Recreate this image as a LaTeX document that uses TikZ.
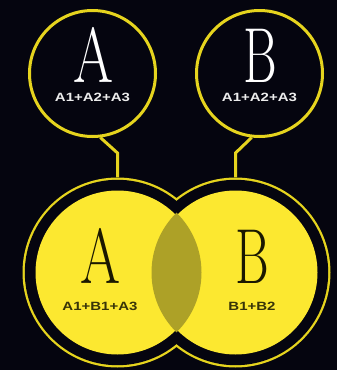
\documentclass[tikz,border=0pt]{standalone}
\usepackage{fontspec}
\newfontfamily\labfont{Liberation Sans}
\definecolor{bg}{HTML}{05050F}
\definecolor{ylw}{HTML}{FCE830}
\definecolor{ylwline}{HTML}{E6D41E}
\definecolor{olive}{HTML}{ADA127}
\definecolor{darktext}{HTML}{1A1800}
\tikzset{
  topcircle/.style={circle, draw=ylwline, line width=3pt, minimum size=126pt, inner sep=0pt},
  bigcircle/.style={circle, minimum size=190pt, inner sep=0pt},
  connector/.style={draw=ylwline, line width=3pt},
  bigletter/.style={font=\fontsize{78}{78}\selectfont, inner sep=0pt, text height=53pt, text depth=0pt},
  smalllabel/.style={font=\labfont\bfseries\fontsize{12}{12}\selectfont, inner sep=0pt, text height=8.6pt, text depth=0pt}
}
\begin{document}
\begin{tikzpicture}[x=1pt,y=-1pt]
\fill[bg] (0,0) rectangle (337,370);
\useasboundingbox (0,0) rectangle (337,370);
% top circles
\node[topcircle] (ta) at (92.5,73.5) {};
\node[topcircle] (tb) at (259.5,73.5) {};
\node[bigletter, text=white, anchor=base] (tal) at (93,82) {\scalebox{0.74}[1]{A}};
\node[bigletter, text=white, anchor=base] (tbl) at (260,82) {\scalebox{0.66}[1]{B}};
\node[smalllabel, text=white!85!gray, anchor=base] (tas) at (92.5,101.5) {\scalebox{1.25}[1]{A1+A2+A3}};
\node[smalllabel, text=white!85!gray, anchor=base] (tbs) at (259.5,101.5) {\scalebox{1.25}[1]{A1+A2+A3}};
% bottom shapes
\node[bigcircle] (bl) at (117.5,272.5) {};
\node[bigcircle] (br) at (235.5,272.5) {};
\fill[ylwline] (bl.center) circle (95) (br.center) circle (95);
\fill[bg] (bl.center) circle (92.7) (br.center) circle (92.7);
\fill[ylw] (bl.center) circle (82) (br.center) circle (82);
\begin{scope}
  \clip (bl.center) circle (84);
  \fill[olive] (br.center) circle (84);
\end{scope}
\node[bigletter, text=darktext, anchor=base] (bal) at (100,283) {\scalebox{0.74}[1]{A}};
\node[bigletter, text=darktext, anchor=base] (bbl) at (252,283) {\scalebox{0.66}[1]{B}};
\node[smalllabel, text=darktext!80!olive, anchor=base] (bas) at (100,310.5) {\scalebox{1.25}[1]{A1+B1+A3}};
\node[smalllabel, text=darktext!80!olive, anchor=base] (bbs) at (252,310.5) {\scalebox{1.25}[1]{B1+B2}};
% connectors
\draw[connector] (ta.-83) -- (117.5,153) -- (bl.north);
\draw[connector] (tb.-97) -- (235.5,153) -- (br.north);
\end{tikzpicture}
\end{document}
